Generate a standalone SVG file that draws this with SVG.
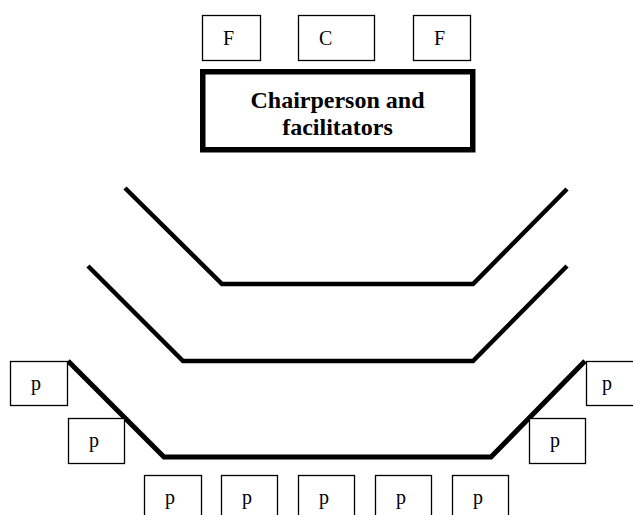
<svg xmlns="http://www.w3.org/2000/svg" width="633" height="515" viewBox="0 0 633 515">
<style>
.box{fill:#fff;stroke:#000;stroke-width:1.3}
.seat{font-family:"Liberation Serif","Times New Roman",serif;font-size:20px;fill:#000}
.head{fill:#fff;stroke:#000;stroke-width:5.5}
.htxt{font-family:"Liberation Serif","Times New Roman",serif;font-size:24px;font-weight:bold;fill:#000;text-anchor:middle}
.row{fill:none;stroke:#000;stroke-width:4.5;stroke-linejoin:miter}
</style>
<rect width="633" height="515" fill="#fff"/>
<g id="connectors">
<polyline class="row" points="125,188 222,284 473,284 567,189"/>
<polyline class="row" points="88,266 183,361 473,361 567,266"/>
<polyline class="row" style="stroke-width:5" points="68,361 164,457 491,457 585,361"/>
</g>
<g id="F1"><rect class="box" x="202.5" y="15.5" width="58" height="45"/><text class="seat" x="223" y="45">F</text></g>
<g id="C"><rect class="box" x="298.5" y="15.5" width="76" height="45"/><text class="seat" x="319" y="45">C</text></g>
<g id="F2"><rect class="box" x="413.5" y="15.5" width="57" height="45"/><text class="seat" x="434" y="45">F</text></g>
<g id="chair"><rect class="head" x="202.75" y="71.75" width="270" height="78"/><text class="htxt" x="337.5" y="108">Chairperson and</text><text class="htxt" x="337.5" y="135">facilitators</text></g>
<g id="pL1"><rect class="box" x="10.5" y="361.5" width="57" height="44"/><text class="seat" x="31" y="390">p</text></g>
<g id="pL2"><rect class="box" x="68.5" y="418.5" width="56" height="45"/><text class="seat" x="89" y="447">p</text></g>
<g id="pR1"><rect class="box" x="586.5" y="361.5" width="57" height="44"/><text class="seat" x="602" y="390">p</text></g>
<g id="pR2"><rect class="box" x="529.5" y="418.5" width="56" height="45"/><text class="seat" x="550" y="447">p</text></g>
<g id="pB1"><rect class="box" x="144.5" y="475.5" width="57" height="50"/><text class="seat" x="165" y="504">p</text></g>
<g id="pB2"><rect class="box" x="221.5" y="475.5" width="56" height="50"/><text class="seat" x="242" y="504">p</text></g>
<g id="pB3"><rect class="box" x="298.5" y="475.5" width="56" height="50"/><text class="seat" x="319" y="504">p</text></g>
<g id="pB4"><rect class="box" x="375.5" y="475.5" width="56" height="50"/><text class="seat" x="396" y="504">p</text></g>
<g id="pB5"><rect class="box" x="452.5" y="475.5" width="56" height="50"/><text class="seat" x="473" y="504">p</text></g>
</svg>
